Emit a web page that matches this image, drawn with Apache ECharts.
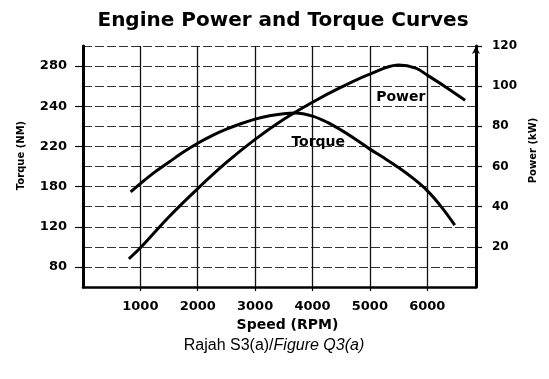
<!DOCTYPE html>
<html>
<head>
<meta charset="utf-8">
<script src="https://cdn.jsdelivr.net/npm/echarts@6/dist/echarts.min.js"></script>
<style>
html,body{margin:0;padding:0;background:#fff;}
#chart{width:549px;height:379px;}
</style>
</head>
<body>
<div id="chart"></div>
<script>
// ---- data ----
const rpmTicks = [1000, 2000, 3000, 4000, 5000, 6000];
const torqueTicks = [80, 120, 180, 220, 240, 280];   // left axis labels (evenly spaced in the original)
const powerTicks = [20, 40, 60, 80, 100, 120];

const torqueRpm = [830, 1000, 1250, 1500, 1750, 2000, 2250, 2500, 2750, 3000, 3250, 3500, 3700, 4000, 4250, 4500, 4750, 5000, 5250, 5500, 5750, 6000, 6250, 6480];
const torqueNm  = [172, 183, 194.4, 204.4, 214.4, 221.6, 225.4, 228.6, 231.3, 233.6, 235.3, 236.3, 236.6, 235.1, 232.1, 228.1, 223.6, 217.3, 208.4, 199, 188.4, 174, 149.4, 122.4];

const powerRpm = [800, 1000, 1500, 2000, 2500, 3000, 3500, 4000, 4500, 5000, 5500, 5800, 6000, 6300, 6660];
const powerKw  = [14, 19.5, 35, 49, 62, 73.5, 83.5, 92, 99.5, 106, 110.5, 109, 105.5, 100, 93];

// left axis of the original is not linear: its labels sit at even steps.
// map a torque value onto that label-index scale (piecewise between tick labels)
function torqueToIndex(v) {
  const t = torqueTicks;
  for (let k = 0; k < t.length - 1; k++) {
    if (v <= t[k + 1] || k === t.length - 2) {
      return k + (v - t[k]) / (t[k + 1] - t[k]);
    }
  }
}
const idxTicks = torqueTicks.map((_, i) => i);

const chart = echarts.init(document.getElementById('chart'), null, {renderer: 'canvas'});
const boldFont = 'DejaVu Sans';
const option = {
  animation: false,
  backgroundColor: '#fff',
  grid: {left: 83, right: 73, top: 46, bottom: 92, containLabel: false},
  graphic: [
    {type: 'text', x: 283, y: 21,
     style: {text: 'Engine Power and Torque Curves', font: 'bold 20px "DejaVu Sans"', fill: '#000',
       align: 'center', verticalAlign: 'middle'}},
    {type: 'text', x: 274, y: 346,
     style: {text: '{n|Rajah S3(a)/}{i|Figure Q3(a)}', align: 'center', verticalAlign: 'middle',
       rich: {n: {fontFamily: 'Liberation Sans', fontSize: 16, color: '#000'},
              i: {fontFamily: 'Liberation Sans', fontSize: 16, fontStyle: 'italic', color: '#000'}}}}
  ],
  xAxis: {
    type: 'value', min: 0, max: 6850, interval: 1000,
    name: 'Speed (RPM)', nameLocation: 'middle', nameGap: 30,
    nameTextStyle: {fontFamily: boldFont, fontWeight: 'bold', fontSize: 14, color: '#000', padding: [0, 0, 0, 16]},
    axisLine: {show: true, onZero: false, lineStyle: {color: '#000', width: 2.5}},
    axisTick: {show: true, customValues: rpmTicks, length: 4, lineStyle: {color: '#000', width: 1.2}},
    axisLabel: {customValues: rpmTicks, margin: 13, formatter: v => String(v),
      fontFamily: boldFont, fontWeight: 'bold', fontSize: 13, color: '#000'},
    splitLine: {show: true, lineStyle: {color: '#111', width: 1.3, type: 'solid'}}
  },
  yAxis: [
    {
      type: 'value', position: 'left', min: -0.5, max: 5.5,
      name: 'Torque (NM)', nameLocation: 'middle', nameGap: 57,
      nameTextStyle: {fontFamily: boldFont, fontWeight: 'bold', fontSize: 10, color: '#000', padding: [0, 0, 0, 22]},
      axisLine: {show: true, onZero: false, lineStyle: {color: '#000', width: 3}},
      axisTick: {show: true, customValues: idxTicks, length: 8, lineStyle: {color: '#000', width: 1.2}},
      axisLabel: {customValues: idxTicks, margin: 16, formatter: v => String(torqueTicks[Math.round(v)]),
        fontFamily: boldFont, fontWeight: 'bold', fontSize: 13, color: '#000'},
      splitLine: {show: false}
    },
    {
      type: 'value', position: 'right', min: 0, max: 120, interval: 20,
      name: 'Power (kW)', nameLocation: 'middle', nameGap: 49,
      nameTextStyle: {fontFamily: boldFont, fontWeight: 'bold', fontSize: 10, color: '#000', padding: [0, 0, 0, 32]},
      axisLine: {show: true, onZero: false, symbol: ['none', 'arrow'], symbolSize: [6, 8], lineStyle: {color: '#000', width: 3}},
      axisTick: {show: true, customValues: powerTicks, length: 6, lineStyle: {color: '#000', width: 1.2}},
      axisLabel: {customValues: powerTicks, margin: 16, fontFamily: boldFont, fontWeight: 'bold', fontSize: 12, color: '#000'},
      splitLine: {show: false}
    },
    {
      type: 'value', position: 'right', min: 0, max: 120, interval: 10,
      axisLine: {show: false}, axisTick: {show: false}, axisLabel: {show: false},
      splitLine: {show: true, lineStyle: {color: '#333', width: 1, type: [9, 3]}}
    }
  ],
  series: [
    {
      name: 'Torque', type: 'line', yAxisIndex: 0, smooth: 0.35, symbol: 'none',
      lineStyle: {color: '#000', width: 3},
      data: torqueRpm.map((r, i) => [r, torqueToIndex(torqueNm[i])]),
      z: 5
    },
    {
      name: 'Power', type: 'line', yAxisIndex: 1, smooth: 0.35, symbol: 'none',
      lineStyle: {color: '#000', width: 3},
      data: powerRpm.map((r, i) => [r, powerKw[i]]),
      markPoint: {
        symbol: 'rect', symbolSize: 0, silent: true,
        label: {show: true, position: 'inside', fontFamily: boldFont, fontWeight: 'bold', fontSize: 14, color: '#000',
          formatter: p => p.name},
        data: [
          {name: 'Power', coord: [5540, 94.5]},
          {name: 'Torque', coord: [4100, 72]}
        ]
      },
      z: 5
    }
  ]
};
chart.setOption(option);
</script>
</body>
</html>
